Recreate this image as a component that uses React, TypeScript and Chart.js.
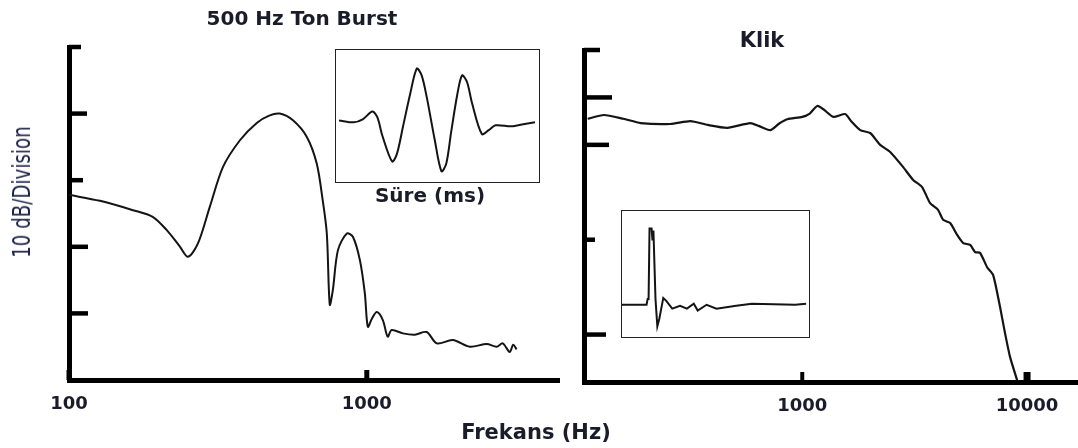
import React, { useEffect, useRef } from "react";
import { Chart, registerables } from "chart.js";

Chart.register(...registerables);

// ---------- data ----------
// 500 Hz tone burst spectrum (frequency in Hz, level in dB)
const tonFreq = [100, 127, 164, 191, 213, 236, 251, 271, 297, 329, 375, 427, 470, 510, 565, 629, 679, 711, 734, 751, 769, 800, 857, 898, 948, 985, 1008, 1040, 1081, 1132, 1175, 1212, 1322, 1450, 1589, 1718, 1944, 2218, 2528, 2729, 2860, 3020, 3100, 3185];
const tonLevel = [27.8, 26.9, 25.5, 24.5, 22.5, 20, 18.5, 20.5, 26, 32, 36, 38.6, 39.7, 40, 39, 36.5, 32.5, 27, 22, 11.3, 13.5, 19.5, 22, 21.5, 18, 13, 8, 9.2, 10.2, 9, 6.5, 7.5, 7, 6.8, 7.2, 5.5, 6.0, 5.0, 5.4, 5.0, 5.5, 4.2, 5.3, 4.6];

// Click spectrum (frequency in Hz, level in divisions)
const klikFreq = [111, 131, 160, 191, 259, 318, 380, 464, 587, 640, 721, 790, 858, 1000, 1080, 1166, 1250, 1374, 1553, 1650, 1811, 2005, 2222, 2462, 2812, 3113, 3413, 3706, 4019, 4234, 4550, 4887, 5200, 5585, 5875, 6185, 6643, 7063, 7586, 7980, 8400, 9030];
const klikLevel = [5.55, 5.63, 5.55, 5.46, 5.44, 5.5, 5.42, 5.36, 5.46, 5.4, 5.31, 5.45, 5.54, 5.59, 5.66, 5.82, 5.74, 5.59, 5.65, 5.5, 5.31, 5.25, 5.0, 4.85, 4.53, 4.26, 4.11, 3.77, 3.63, 3.42, 3.35, 3.1, 2.93, 2.89, 2.74, 2.72, 2.42, 2.26, 1.58, 1.03, 0.53, 0.04];

// Tone burst waveform (relative time, amplitude)
const tonWaveTime = [1.5, 8.8, 13.2, 18, 20.5, 23, 27.8, 30.2, 33.2, 36.6, 40, 42.4, 44.9, 48.8, 52.2, 54.6, 57, 60, 62.4, 64.9, 67.3, 72.2, 75.6, 79, 86.8, 92.7, 98.5];
const tonWaveAmp = [1, -1, 2, 10, 4, -15, -41, -33, -5, 27, 54, 47, 25, -18, -51, -43, -11, 27, 47, 40, 19, -13, -9, -4, -5, -3, -1];

// Click waveform (relative time, amplitude)
const klikWaveTime = [0, 13.2, 13.8, 14.3, 14.8, 15.9, 16.4, 16.9, 18, 19, 20.1, 22.2, 23.8, 27, 31.2, 34.9, 38.6, 40.7, 45.5, 50.8, 61.4, 69.8, 93.1, 99];
const klikWaveAmp = [0, 0, 6, 6, 78, 78, 66, 76, 6, -22, -14, 7, 4, -4, -1, -4, 1, -6, 0, -4, -1, 1, 0, 1];

const tonXTicks = [100, 1000];
const klikXTicks = [1000, 10000];
const tonYTicks = [10, 20, 30, 40, 50];
const klikYTicks = [1, 3, 5, 6, 7];

// ---------- styles ----------
const TEXT = "#1b1b2a";
const FONT = "'DejaVu Sans', sans-serif";

const inwardTicks = {
  id: "inwardTicks",
  afterDraw(chart: any, _args: any, opts: any) {
    if (!opts || !opts.yTicks) return;
    const { ctx, chartArea } = chart;
    const x = chart.scales.x;
    const y = chart.scales.y;
    ctx.save();
    ctx.strokeStyle = "#000";
    ctx.lineCap = "butt";
    opts.yTicks.forEach((v: number, i: number) => {
      const py = y.getPixelForValue(v);
      ctx.lineWidth = opts.yWidth;
      ctx.beginPath();
      ctx.moveTo(chartArea.left, py);
      ctx.lineTo(chartArea.left + opts.yLen[i], py);
      ctx.stroke();
    });
    opts.xTicks.forEach((v: number, i: number) => {
      const px = x.getPixelForValue(v);
      ctx.lineWidth = opts.xWidth[i];
      ctx.beginPath();
      ctx.moveTo(px, chartArea.bottom);
      ctx.lineTo(px, chartArea.bottom - opts.xLen);
      ctx.stroke();
    });
    ctx.restore();
  },
};

function mainConfig(p: {
  freq: number[];
  level: number[];
  xMin: number;
  xMax: number;
  xTicks: number[];
  yMax: number;
  yStep: number;
  yTicks: number[];
  yLen: number[];
  xWidth: number[];
  top: number;
  yWidthPx: number;
  xHeightPx: number;
  lineWidth: number;
  tension: number;
}): any {
  return {
    type: "line",
    data: {
      datasets: [
        {
          data: p.freq.map((f, i) => ({ x: f, y: p.level[i] })),
          borderColor: "#141414",
          borderWidth: p.lineWidth,
          pointRadius: 0,
          tension: p.tension,
          fill: false,
        },
      ],
    },
    options: {
      animation: false,
      responsive: false,
      maintainAspectRatio: false,
      layout: { padding: { top: p.top, left: 0, right: 0, bottom: 0 } },
      plugins: {
        legend: { display: false },
        tooltip: { enabled: false },
        title: { display: false },
        inwardTicks: {
          yTicks: p.yTicks,
          yLen: p.yLen,
          yWidth: 4.5,
          xTicks: p.xTicks,
          xWidth: p.xWidth,
          xLen: 10,
        },
      },
      scales: {
        x: {
          type: "logarithmic",
          min: p.xMin,
          max: p.xMax,
          afterBuildTicks: (s: any) => {
            s.ticks = p.xTicks.map((v) => ({ value: v }));
          },
          afterFit: (s: any) => {
            s.height = p.xHeightPx;
          },
          grid: { display: true, drawOnChartArea: false, drawTicks: false, color: "rgba(0,0,0,0)" },
          border: { display: true, width: 5, color: "#000" },
          ticks: {
            color: TEXT,
            font: { family: FONT, size: 18, weight: "bold" },
            padding: 14,
            autoSkip: false,
            maxRotation: 0,
            callback: (v: any) => String(v),
          },
        },
        y: {
          type: "linear",
          min: 0,
          max: p.yMax,
          ticks: { display: false, stepSize: p.yStep },
          afterFit: (s: any) => {
            s.width = p.yWidthPx;
          },
          grid: { display: true, drawOnChartArea: false, drawTicks: false, color: "rgba(0,0,0,0)" },
          border: { display: true, width: 5, color: "#000" },
        },
      },
    },
    plugins: [inwardTicks],
  };
}

function insetConfig(t: number[], a: number[], yMin: number, yMax: number, tension: number): any {
  return {
    type: "line",
    data: {
      datasets: [
        {
          data: t.map((v, i) => ({ x: v, y: a[i] })),
          borderColor: "#141414",
          borderWidth: 2,
          pointRadius: 0,
          tension,
          fill: false,
        },
      ],
    },
    options: {
      animation: false,
      responsive: false,
      maintainAspectRatio: false,
      layout: { padding: 0 },
      plugins: { legend: { display: false }, tooltip: { enabled: false } },
      scales: {
        x: { type: "linear", min: 0, max: 100, display: false },
        y: { type: "linear", min: yMin, max: yMax, display: false },
      },
    },
  };
}

export default function App() {
  const leftRef = useRef<HTMLCanvasElement>(null);
  const rightRef = useRef<HTMLCanvasElement>(null);
  const tonInsetRef = useRef<HTMLCanvasElement>(null);
  const klikInsetRef = useRef<HTMLCanvasElement>(null);

  useEffect(() => {
    document.body.style.margin = "0";
    const charts: Chart[] = [];
    charts.push(
      new Chart(
        leftRef.current!,
        mainConfig({
          freq: tonFreq,
          level: tonLevel,
          xMin: 100,
          xMax: 4454,
          xTicks: tonXTicks,
          yMax: 50,
          yStep: 10,
          yTicks: tonYTicks,
          yLen: [19, 19, 14, 18, 12],
          xWidth: [5],
          top: 47,
          yWidthPx: 69,
          xHeightPx: 68,
          lineWidth: 2,
          tension: 0.3,
        })
      )
    );
    charts.push(
      new Chart(
        rightRef.current!,
        mainConfig({
          freq: klikFreq,
          level: klikLevel,
          xMin: 106.9,
          xMax: 16854,
          xTicks: klikXTicks,
          yMax: 7,
          yStep: 1,
          yTicks: klikYTicks,
          yLen: [22, 11, 25, 28, 16],
          xWidth: [4, 7],
          top: 50,
          yWidthPx: 24,
          xHeightPx: 66,
          lineWidth: 2.2,
          tension: 0.2,
        })
      )
    );
    charts.push(new Chart(tonInsetRef.current!, insetConfig(tonWaveTime, tonWaveAmp, -61, 73, 0.3)));
    charts.push(new Chart(klikInsetRef.current!, insetConfig(klikWaveTime, klikWaveAmp, -32, 96, 0)));
    return () => charts.forEach((c) => c.destroy());
  }, []);

  const abs = (x: number, y: number): React.CSSProperties => ({
    position: "absolute",
    left: x,
    top: y,
    transform: "translate(-50%, -50%)",
    whiteSpace: "nowrap",
    fontFamily: FONT,
    fontWeight: "bold",
    color: TEXT,
    lineHeight: 1,
  });

  return (
    <div style={{ position: "relative", width: 1078, height: 448, background: "#fff", overflow: "hidden" }}>
      <canvas ref={leftRef} width={560} height={448} style={{ position: "absolute", left: 0, top: 0 }} />
      <canvas ref={rightRef} width={518} height={448} style={{ position: "absolute", left: 560, top: 0 }} />

      <div
        style={{
          position: "absolute",
          left: 335,
          top: 49,
          width: 205,
          height: 134,
          border: "1.5px solid #222",
          boxSizing: "border-box",
          background: "#fff",
        }}
      >
        <canvas ref={tonInsetRef} width={202} height={131} style={{ display: "block" }} />
      </div>
      <div
        style={{
          position: "absolute",
          left: 621,
          top: 210,
          width: 189,
          height: 128,
          border: "1.5px solid #222",
          boxSizing: "border-box",
          background: "#fff",
        }}
      >
        <canvas ref={klikInsetRef} width={186} height={125} style={{ display: "block" }} />
      </div>

      <div style={{ ...abs(302, 18), fontSize: 20 }}>500 Hz Ton Burst</div>
      <div style={{ ...abs(762, 40), fontSize: 21 }}>Klik</div>
      <div style={{ ...abs(430, 195), fontSize: 20 }}>Süre (ms)</div>
      <div style={{ ...abs(536, 432), fontSize: 21 }}>Frekans (Hz)</div>
      <div
        style={{
          ...abs(22, 192),
          transform: "translate(-50%, -50%) rotate(-90deg) scaleX(0.76)",
          fontWeight: "normal",
          fontSize: 24,
          color: "#1c2448",
        }}
      >
        10 dB/Division
      </div>
    </div>
  );
}
